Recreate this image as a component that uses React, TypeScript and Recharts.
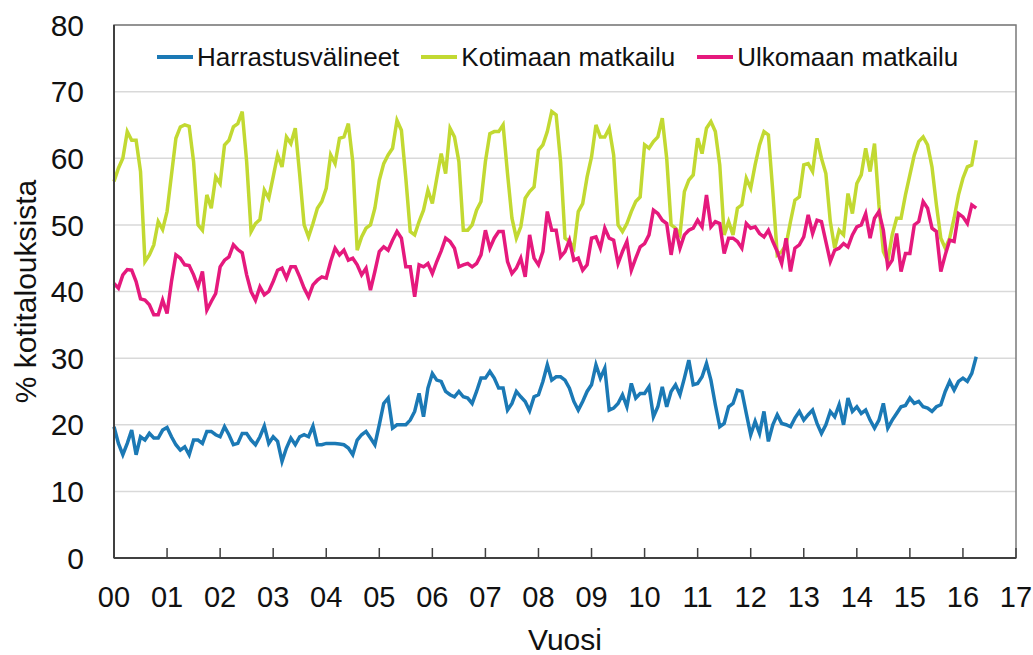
import React from 'react'
import {
  ComposedChart,
  Line,
  XAxis,
  YAxis,
  CartesianGrid,
  Legend,
  ReferenceArea,
} from 'recharts'

// monthly series, Jan 2000 .. Apr 2016 (% of households)
const HARRASTUS = [
  19.7, 17.2, 15.5, 17.2, 19.2, 15.5, 18.2, 17.7, 18.7, 18, 18, 19.2,
  19.6, 18.2, 17, 16.2, 16.7, 15.5, 17.7, 17.7, 17.2, 19, 19, 18.5,
  18.2, 19.7, 18.5, 17, 17.2, 18.7, 18.7, 17.7, 17, 18.2, 19.8, 17.2,
  18.2, 17.5, 14.5, 16.5, 18, 17, 18.2, 18.5, 18.2, 19.8, 17, 17,
  17.2, 17.2, 17.2, 17.1, 17, 16.5, 15.5, 17.7, 18.5, 19, 18, 17,
  20, 23.2, 24, 19.5, 20, 20, 20, 20.7, 22, 24.7, 21.2, 25.5,
  27.7, 26.7, 26.5, 25, 24.5, 24.2, 25, 24.2, 24, 23.2, 25, 27,
  27, 28, 27, 25.5, 25.5, 22.2, 23.2, 25, 24.2, 23.5, 22.1, 24.2,
  24.5, 26.5, 29, 26.7, 27.2, 27.2, 26.7, 25.5, 23.5, 22.2, 23.5, 25,
  26, 29, 27, 28.5, 22.2, 22.5, 23.2, 24.5, 22.7, 26.2, 24, 24.7,
  24.7, 25.7, 21.2, 22.7, 25.7, 22.7, 25, 26, 24.5, 27, 29.7, 26,
  26.2, 27.2, 29.2, 26.7, 23, 19.7, 20.2, 22.7, 23.2, 25.2, 25, 21.7,
  18.5, 20.5, 18.7, 22, 17.5, 20, 21.5, 20.2, 20, 19.7, 21, 22,
  20.7, 21.5, 22.2, 20.2, 18.7, 20, 22, 21.2, 23, 20, 24, 22,
  22.7, 21.7, 22.2, 20.7, 19.5, 20.7, 23.2, 19.5, 20.7, 21.7, 22.7, 22.9,
  24, 23.2, 23.5, 22.7, 22.5, 22, 22.7, 23, 25, 26.5, 25.2, 26.5,
  27, 26.5, 27.7, 30.2,
]

const KOTIMAAN = [
  56.5, 58.5, 60, 64, 62.7, 62.7, 58, 44.5, 45.5, 47, 50.5, 49.3,
  52, 57.5, 63, 64.7, 65, 64.8, 59.5, 50, 49.2, 54.5, 52.5, 57.2,
  56.2, 62, 62.7, 64.7, 65.2, 67, 59.5, 49, 50.2, 50.8, 55.2, 54,
  57.2, 60.5, 58.7, 63.2, 62.2, 64.5, 57.5, 50, 48.2, 50.2, 52.5, 53.5,
  55.5, 60.5, 59.2, 63, 63.2, 65.2, 59.5, 46.2, 48.2, 49.5, 50, 52.5,
  56.7, 59.2, 60.5, 61.5, 65.7, 64.2, 57, 49, 48.5, 50.5, 52.2, 55.2,
  53.2, 57, 60.7, 57.7, 64.5, 63.2, 59.5, 49.2, 49.2, 50, 52.2, 53.5,
  59.5, 63.7, 64, 64, 65, 57.7, 51, 48, 49.7, 54, 55, 55.7,
  61.2, 62, 64, 67, 66.5, 59.5, 48, 47.5, 46.5, 52, 53.2, 57.2,
  60.2, 65, 63.2, 63.2, 64.5, 60.5, 50, 49, 50.2, 52, 53.5, 54.2,
  62, 61.5, 62.5, 63.2, 66, 60, 50, 49.5, 48.5, 55, 56.7, 57.5,
  63, 60.7, 64.5, 65.5, 64, 59, 48.5, 50.5, 48.5, 52.5, 53, 57,
  55.5, 59, 62, 64, 63.5, 55, 45.5, 46, 47, 50.5, 53.7, 54.2,
  59, 59.2, 58, 63, 60, 57.7, 50.5, 46.5, 49.2, 48.5, 54.7, 51.7,
  56.2, 57.5, 61.5, 58, 62.2, 53, 46, 44.5, 48.5, 51, 51, 54.5,
  57.5, 60.5, 62.5, 63.2, 62, 58.7, 53, 48, 46.5, 48, 51, 54.5,
  57, 58.7, 59, 62.7,
]

const ULKOMAAN = [
  41.2, 40.5, 42.5, 43.3, 43.2, 41.5, 38.9, 38.7, 38, 36.5, 36.5, 38.7,
  36.7, 41.5, 45.5, 45, 44, 43.9, 42.5, 40.7, 43, 37.2, 38.5, 39.7,
  43.7, 44.7, 45.2, 47, 46.3, 45.8, 42.5, 40, 38.7, 40.7, 39.5, 40,
  41.5, 43.2, 43.5, 42, 43.7, 43.7, 42.2, 40.5, 39.2, 41, 41.7, 42.2,
  42, 44.5, 46.5, 45.5, 46.2, 44.7, 45, 44, 42.5, 43.5, 40.2, 43,
  46, 46.7, 46.2, 47.7, 49, 48, 43.7, 43.7, 39.2, 44, 43.7, 44.2,
  42.7, 44.5, 46.1, 48, 47.5, 46.5, 43.7, 44, 44.2, 43.7, 44.2, 45.5,
  49.2, 46.5, 48, 49, 49, 44.5, 42.7, 43.5, 45, 42.2, 48.5, 45,
  44, 46, 52, 49.2, 49.2, 45.2, 46, 47.7, 44.7, 45, 43.2, 44,
  48, 48.2, 46.5, 49.5, 48, 47.7, 44.2, 46, 47.5, 43.2, 45, 46.7,
  47.2, 48.5, 52.2, 51.7, 50.7, 50.2, 45.5, 49.5, 46.5, 48.5, 49.2, 49.5,
  50.7, 49.7, 54.5, 49.7, 50.5, 50.2, 45.7, 48, 48, 47.5, 46.5, 50.2,
  49.5, 49.7, 48.7, 48.2, 49.2, 47.5, 46, 44.2, 48, 43, 46.5, 47,
  48.2, 51.5, 48.7, 50.7, 50.5, 47.5, 44.5, 46.2, 46.5, 47.2, 46.7, 48.5,
  49.7, 50, 51.7, 48, 51, 52, 49.2, 43.7, 44.7, 48.7, 43, 45.7,
  45.7, 50, 50.5, 53.5, 52.5, 49.5, 49, 43, 45.5, 47.7, 47.5, 51.7,
  51.2, 50.2, 53, 52.5,
]

const YEAR_LABELS = ['00','01','02','03','04','05','06','07','08','09','10','11','12','13','14','15','16','17']
const Y_TICKS = [0, 10, 20, 30, 40, 50, 60, 70, 80]

const SERIES = [
  { key: 'harrastus', name: 'Harrastusvälineet', color: '#1b79b5' },
  { key: 'kotimaan', name: 'Kotimaan matkailu', color: '#c2d932' },
  { key: 'ulkomaan', name: 'Ulkomaan matkailu', color: '#e5197d' },
]

const data = HARRASTUS.map((v, i) => ({
  t: i / 12,
  harrastus: v,
  kotimaan: KOTIMAAN[i],
  ulkomaan: ULKOMAAN[i],
}))

const FONT = '"Liberation Sans", Arial, sans-serif'

const LegendContent = () => (
  <div style={{ display: 'flex', alignItems: 'center', height: 34, fontSize: 26, color: '#111', fontFamily: FONT }}>
    {SERIES.map(s => (
      <div key={s.key} style={{ display: 'flex', alignItems: 'center', marginRight: 22 }}>
        <span style={{ display: 'inline-block', width: 36, height: 4, background: s.color, marginRight: 4 }} />
        <span>{s.name}</span>
      </div>
    ))}
  </div>
)

export default function App() {
  return (
    <div style={{ position: 'absolute', left: 0, top: 0, fontFamily: FONT }}>
      <ComposedChart
        width={1033}
        height={655}
        data={data}
        margin={{ top: 25, right: 17, left: 0, bottom: 0 }}
      >
        <CartesianGrid vertical={false} stroke="#d9d9d9" strokeWidth={1.5} />
        <ReferenceArea
          x1={0}
          x2={17}
          y1={0}
          y2={80}
          fill="none"
          stroke="#7a7a7a"
          strokeWidth={1.5}
          ifOverflow="visible"
        />
        <XAxis
          dataKey="t"
          type="number"
          domain={[0, 17]}
          ticks={YEAR_LABELS.map((_, i) => i)}
          tickFormatter={(v: number) => YEAR_LABELS[v]}
          height={97}
          tickSize={-10}
          tickMargin={38}
          tickLine={{ stroke: '#404040', strokeWidth: 1.5 }}
          axisLine={{ stroke: '#404040', strokeWidth: 2 }}
          tick={{ fontSize: 29, fill: '#111', fontFamily: FONT }}
          interval={0}
          label={{ value: 'Vuosi', position: 'insideBottom', offset: 5, style: { fontSize: 30, fill: '#111', fontFamily: FONT } }}
        />
        <YAxis
          domain={[0, 80]}
          ticks={Y_TICKS}
          width={114}
          tickSize={0}
          tickMargin={30}
          tickLine={false}
          axisLine={{ stroke: '#404040', strokeWidth: 2 }}
          tick={{ fontSize: 30, fill: '#111', fontFamily: FONT }}
          interval={0}
          label={{
            value: '% kotitalouksista',
            angle: -90,
            position: 'center',
            dx: -32,
            style: { fontSize: 30, fill: '#111', fontFamily: FONT, textAnchor: 'middle' },
          }}
        />
        <Legend
          layout="vertical"
          verticalAlign="middle"
          align="center"
          content={<LegendContent />}
          wrapperStyle={{ top: 40, left: 157, width: 860 }}
        />
        {SERIES.map(s => (
          <Line
            key={s.key}
            type="linear"
            dataKey={s.key}
            name={s.name}
            stroke={s.color}
            strokeWidth={3.5}
            dot={false}
            activeDot={false}
            isAnimationActive={false}
          />
        ))}
      </ComposedChart>
    </div>
  )
}
